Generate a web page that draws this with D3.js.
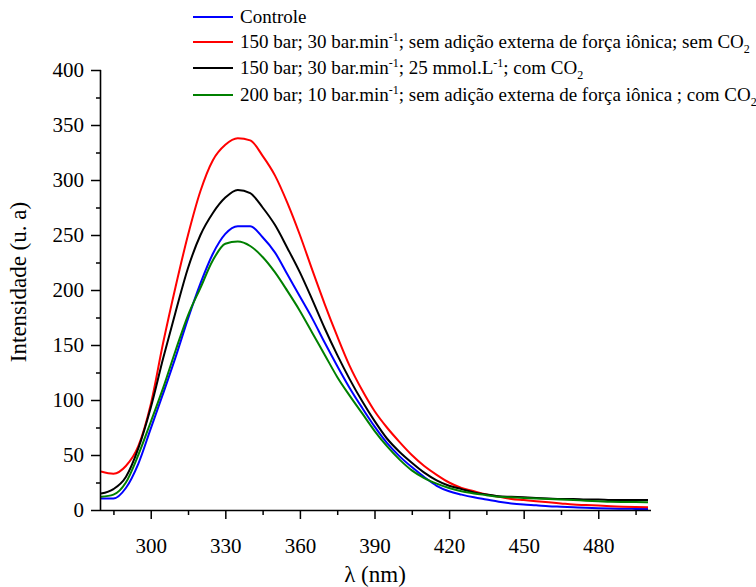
<!DOCTYPE html>
<html>
<head>
<meta charset="utf-8">
<script src="https://cdn.jsdelivr.net/npm/d3@7"></script>
<style>
body { margin: 0; background: #fff; }
text { font-family: "Liberation Serif", "Times New Roman", serif; fill: #000; }
</style>
</head>
<body>
<div id="p"></div>
<script>
// wavelengths (nm), every 5 nm
var lambda = d3.range(280, 501, 5);

// intensities
var controle = [10.5, 10.5, 20, 42, 74, 106, 139, 174, 206, 233, 251, 258, 258, 248, 234, 214, 194, 174, 152, 131, 111, 93, 76, 61, 49, 39, 30, 22, 17, 14, 11.5, 9.5, 7.5, 6, 5, 4.3, 3.5, 3, 2.5, 2, 1.6, 1.3, 1.1, 1, 0.9];
var semCO2 = [35, 33, 40, 58, 96, 152, 203, 250, 290, 318, 332, 338, 336, 322, 304, 279, 250, 218, 187, 158, 131, 109, 90, 75, 62, 50, 40, 32, 25, 20, 17, 14, 12, 10, 9, 8, 7, 6, 5, 4.5, 4, 3.5, 3, 2.7, 2.5];
var comCO2_25 = [15, 19, 30, 56, 93, 138, 180, 220, 250, 270, 284, 291, 288, 275, 259, 238, 216, 191, 165, 141, 119, 99, 81, 65, 53, 43, 34, 27, 22, 19, 16, 14, 12.5, 12, 11.5, 11, 10.5, 10, 10, 9.5, 9.5, 9, 9, 9, 9];
var comCO2_200 = [12, 14, 25, 50, 80, 111, 145, 177, 202, 227, 242, 244, 240, 230, 216, 199, 181, 161, 141, 121, 104, 88, 72, 58, 46, 36, 29, 24, 20, 17, 15, 13.5, 12, 11.5, 11, 10.5, 10, 9.5, 9, 8.5, 8, 7.5, 7.3, 7.2, 7];

// legend labels: text, superscript, text, ... , subscript
var labels = [
  ["Controle"],
  ["150 bar; 30 bar.min", "-1", "; sem adição externa de força iônica; sem CO", "2"],
  ["150 bar; 30 bar.min", "-1", "; 25 mmol.L", "-1", "; com CO", "2"],
  ["200 bar; 10 bar.min", "-1", "; sem adição externa de força iônica ; com CO", "2"]
];
var colors = ["#0000ff", "#ff0000", "#000000", "#008000"];
var series = [controle, semCO2, comCO2_25, comCO2_200];

var xTicks = [300, 330, 360, 390, 420, 450, 480];
var xMinor = [285, 315, 345, 375, 405, 435, 465, 495];
var yTicks = [0, 50, 100, 150, 200, 250, 300, 350, 400];
var yMinor = [25, 75, 125, 175, 225, 275, 325, 375];

(function() {
var W = 756, H = 587;
var mL = 101, mR = 648, mT = 70, mB = 510;

var svg = d3.select("#p").append("svg")
  .attr("width", W)
  .attr("height", H);

var x = d3.scaleLinear().domain([280, 500]).range([mL, mR]);
var y = d3.scaleLinear().domain([0, 400]).range([mB, mT]);

// lines
var line = d3.line()
  .x(function(d) { return x(d[0]); })
  .y(function(d) { return y(d[1]); })
  .curve(d3.curveMonotoneX);

series.forEach(function(s, i) {
  svg.append("path")
    .datum(lambda.map(function(l, j) { return [l, s[j]]; }))
    .attr("fill", "none")
    .attr("stroke", colors[i])
    .attr("stroke-width", 2)
    .attr("d", line);
});

// axes
var xAxis = svg.append("g")
  .attr("transform", "translate(0," + mB + ")")
  .call(d3.axisBottom(x).tickValues(xTicks).tickSize(9).tickPadding(19));
svg.append("g")
  .attr("transform", "translate(0," + mB + ")")
  .call(d3.axisBottom(x).tickValues(xMinor).tickSize(5).tickFormat(""))
  .select(".domain").remove();

var yAxis = svg.append("g")
  .attr("transform", "translate(" + mL + ",0)")
  .call(d3.axisLeft(y).tickValues(yTicks).tickSize(10).tickPadding(7));
svg.append("g")
  .attr("transform", "translate(" + mL + ",0)")
  .call(d3.axisLeft(y).tickValues(yMinor).tickSize(5).tickFormat(""))
  .select(".domain").remove();

svg.selectAll(".domain").attr("stroke", "#000").attr("stroke-width", 1.6);
xAxis.select(".domain").attr("d", "M" + mL + ",0.5H" + (mR + 3));
yAxis.select(".domain").attr("d", "M-0.5," + (mB + 1) + "V" + mT);
svg.selectAll(".tick line").attr("stroke", "#000").attr("stroke-width", 1.5);
svg.selectAll(".tick text")
  .style("font-family", "'Liberation Serif', serif")
  .style("font-size", "21px")
  .attr("fill", "#000");

// axis titles
svg.append("text")
  .attr("x", 375)
  .attr("y", 582)
  .attr("text-anchor", "middle")
  .style("font-size", "23px")
  .text("λ (nm)");

svg.append("text")
  .attr("transform", "translate(26,282) rotate(-90)")
  .attr("text-anchor", "middle")
  .style("font-size", "23px")
  .text("Intensidade (u. a)");

// legend
var legY = [17, 42, 68, 95];
labels.forEach(function(parts, i) {
  svg.append("line")
    .attr("x1", 193).attr("x2", 233)
    .attr("y1", legY[i]).attr("y2", legY[i])
    .attr("stroke", colors[i])
    .attr("stroke-width", 2);
  var t = svg.append("text")
    .attr("x", 240)
    .attr("y", legY[i] + 6)
    .style("font-size", "19px");
  var shift = 0;
  parts.forEach(function(p, k) {
    var ts = t.append("tspan").text(p);
    var target = 0;
    if (k % 2 === 1) {
      target = (p === "2") ? 5 : -7;
      ts.style("font-size", "12px");
    }
    ts.attr("dy", target - shift);
    shift = target;
  });
});
})();
</script>
</body>
</html>
